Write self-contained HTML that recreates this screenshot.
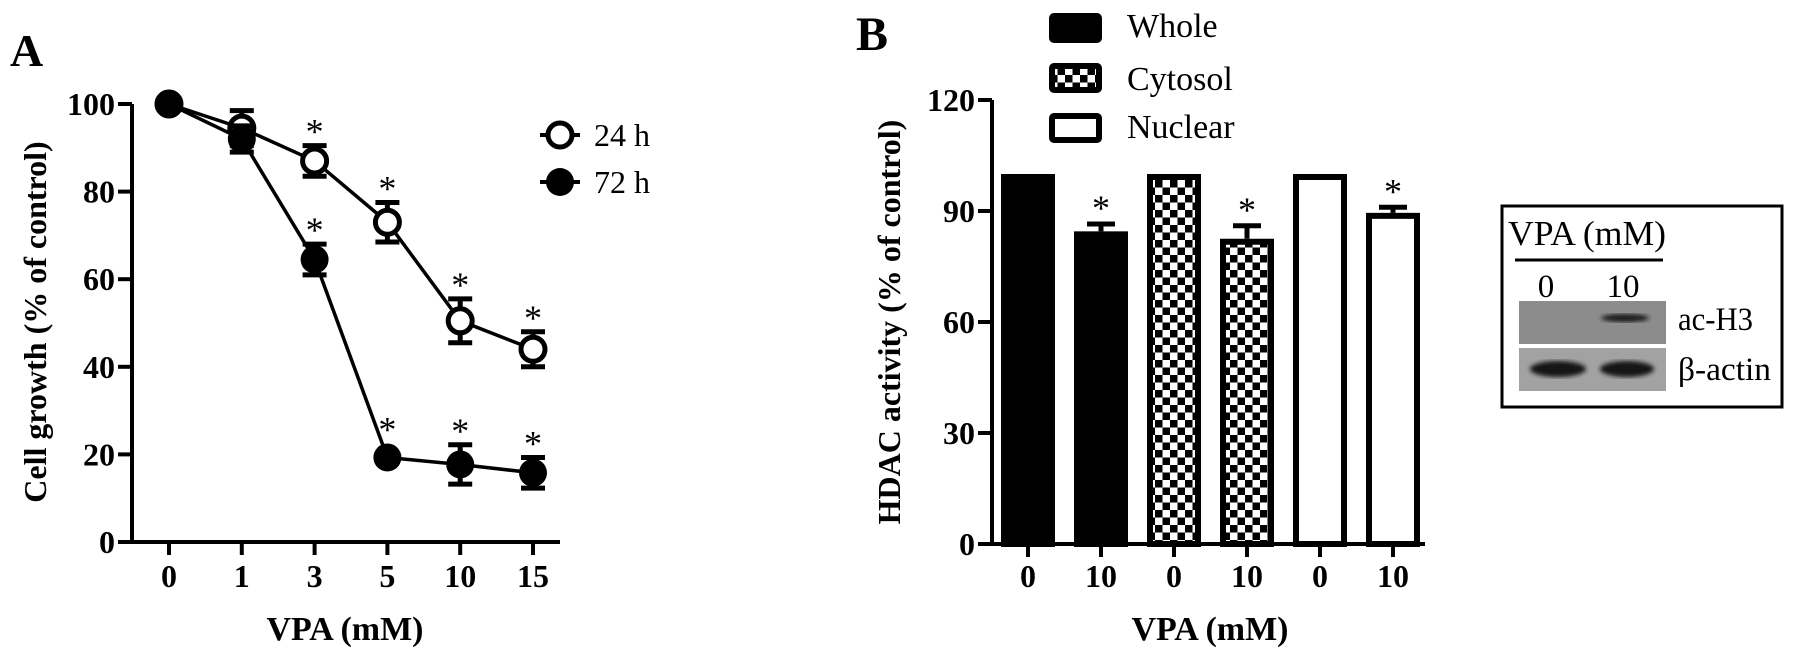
<!DOCTYPE html>
<html><head><meta charset="utf-8"><style>
html,body{margin:0;padding:0;background:#fff;}
svg{display:block;}
svg text{font-family:"Liberation Serif","Times New Roman","DejaVu Serif",serif;}
</style></head><body>
<svg id="fig" width="1795" height="658" viewBox="0 0 1795 658">
<defs>
<pattern id="chk" width="15" height="15" patternUnits="userSpaceOnUse">
<rect width="15" height="15" fill="#fff"/>
<rect width="7.5" height="7.5" fill="#000"/>
<rect x="7.5" y="7.5" width="7.5" height="7.5" fill="#000"/>
</pattern>
<filter id="blur1"><feGaussianBlur stdDeviation="2"/></filter>
</defs>
<g id="panelA"></g>
<g id="panelB"></g>
<g id="blot">
<rect x="1502" y="206" width="280" height="201" fill="#fff" stroke="#000" stroke-width="3"/>
<text x="1508" y="245" font-size="35" textLength="158" lengthAdjust="spacingAndGlyphs">VPA (mM)</text>
<line x1="1515" y1="260" x2="1663" y2="260" stroke="#000" stroke-width="3"/>
<text x="1546" y="297" font-size="33" text-anchor="middle">0</text>
<text x="1623" y="297" font-size="33" text-anchor="middle">10</text>
<rect x="1519" y="301" width="147" height="43" fill="#8c8c8c"/>
<ellipse cx="1625" cy="318" rx="24" ry="4" fill="#1a1a1a" filter="url(#blur1)"/>
<rect x="1519" y="348" width="147" height="43" fill="#a2a2a2"/>
<ellipse cx="1558" cy="369" rx="28" ry="8" fill="#151515" filter="url(#blur1)"/>
<ellipse cx="1627" cy="369" rx="27" ry="8" fill="#151515" filter="url(#blur1)"/>
<text x="1678" y="330" font-size="33" textLength="75" lengthAdjust="spacingAndGlyphs">ac-H3</text>
<text x="1678" y="380" font-size="33" textLength="93" lengthAdjust="spacingAndGlyphs">β-actin</text>
</g>
</svg>
<script>
// Panel A data
const doses = ["0","1","3","5","10","15"];
const growth24 = [100, 94.5, 87, 73, 50.5, 44];
const err24 = [1, 4, 3.5, 4.5, 5, 4];
const growth72 = [100, 92, 64.5, 19.3, 17.7, 15.8];
const err72 = [1, 3, 3.5, 1, 4.5, 3.5];
const sig24 = [false, false, true, true, true, true];
const sig72 = [false, false, true, true, true, true];
const yTicksA = [0, 20, 40, 60, 80, 100];
// Panel B data
const bLabels = ["0","10","0","10","0","10"];
const bValues = [100, 84.5, 100, 82.5, 100, 89.5];
const bErr = [0, 2, 0, 3.5, 0, 1.5];
const bFraction = ["Whole","Whole","Cytosol","Cytosol","Nuclear","Nuclear"];
const bSig = [false, true, false, true, false, true];
const yTicksB = [0, 30, 60, 90, 120];

const NS = "http://www.w3.org/2000/svg";
function mk(parent, tag, attrs, txt){
  const e = document.createElementNS(NS, tag);
  for (const k in attrs) e.setAttribute(k, attrs[k]);
  if (txt !== undefined) e.textContent = txt;
  parent.appendChild(e);
  return e;
}
// ---------- Panel A ----------
const A = document.getElementById("panelA");
const axA = 132, y0A = 542, pxA = 4.38;
const yA = v => y0A - v * pxA;
const xA = i => 169 + i * 72.8;
let e;
e = mk(A, "text", {x: 10, y: 66, "font-size": 46, "font-weight": "bold"}, "A");


e = mk(A, "line", {x1: axA, y1: y0A + 1.5, x2: axA, y2: yA(100), stroke: "#000", "stroke-width": 4});


e = mk(A, "line", {x1: axA - 14, y1: y0A, x2: 560, y2: y0A, stroke: "#000", "stroke-width": 4});


yTicksA.forEach(t => {
  e = mk(A, "line", {x1: axA - 14, y1: yA(t), x2: axA, y2: yA(t), stroke: "#000", "stroke-width": 4});
  
  
  e = mk(A, "text", {x: axA - 17, y: yA(t) + 11, "font-size": 32, "font-weight": "bold", "text-anchor": "end"}, String(t));
  
  
});
doses.forEach((d, i) => {
  e = mk(A, "line", {x1: xA(i), y1: y0A, x2: xA(i), y2: y0A + 13, stroke: "#000", "stroke-width": 4});
  
  
  e = mk(A, "text", {x: xA(i), y: 587, "font-size": 32, "font-weight": "bold", "text-anchor": "middle"}, d);
  
  
});
e = mk(A, "text", {x: 345, y: 640, "font-size": 34, "font-weight": "bold", "text-anchor": "middle"}, "VPA (mM)");


e = mk(A, "text", {x: 0, y: 0, "font-size": 32, "font-weight": "bold", "text-anchor": "middle", transform: "translate(46,322) rotate(-90)"}, "Cell growth (% of control)");



function series(vals, errs, sig, filled, name){
  const pts = vals.map((v, i) => xA(i) + "," + yA(v)).join(" ");
  e = mk(A, "polyline", {points: pts, fill: "none", stroke: "#000", "stroke-width": 3.5});
  
  
  vals.forEach((v, i) => {
    const x = xA(i), y = yA(v), t = yA(v + errs[i]), b = yA(v - errs[i]);
    if (errs[i] > 1.5) {
      e = mk(A, "path", {d: `M${x},${t}V${b}M${x-12},${t}H${x+12}M${x-12},${b}H${x+12}`, stroke: "#000", "stroke-width": 5, fill: "none"});
      
      
    }
    e = mk(A, "circle", {cx: x, cy: y, r: filled ? 14 : 12, fill: filled ? "#000" : "#fff", stroke: "#000", "stroke-width": filled ? 0 : 5});
    
    
    if (sig[i]) {
      const top = Math.min(t, y - 14);
      e = mk(A, "text", {x: x, y: top - 2, "font-size": 36, "text-anchor": "middle"}, "*");
      
      
    }
  });
}
series(growth24, err24, sig24, false, "series-24h");
series(growth72, err72, sig72, true, "series-72h");
// legend A
[["24 h", false, 135], ["72 h", true, 182]].forEach(([lab, filled, y]) => {
  e = mk(A, "line", {x1: 540, y1: y, x2: 580, y2: y, stroke: "#000", "stroke-width": 4});
  
  
  e = mk(A, "circle", {cx: 560, cy: y, r: filled ? 14 : 12, fill: filled ? "#000" : "#fff", stroke: "#000", "stroke-width": filled ? 0 : 5});
  
  
  e = mk(A, "text", {x: 594, y: y + 11, "font-size": 32}, lab);
  
  
});

// ---------- Panel B ----------
const B = document.getElementById("panelB");
const axB = 992, y0B = 544, pxB = 3.7;
const yB = v => y0B - v * pxB;
const xB = i => 1028 + i * 73;
const bw = 54;
e = mk(B, "text", {x: 856, y: 50, "font-size": 48, "font-weight": "bold"}, "B");


bValues.forEach((v, i) => {
  const x = xB(i) - bw / 2, f = bFraction[i];
  const fill = f === "Whole" ? "#000" : f === "Cytosol" ? "url(#chk)" : "#fff";
  e = mk(B, "rect", {x: x + 3, y: yB(v) + 3, width: bw - 6, height: v * pxB - 3, fill: fill, stroke: "#000", "stroke-width": 6});
  
  
  const top = yB(v + bErr[i]);
  if (bErr[i] > 0) {
    e = mk(B, "path", {d: `M${xB(i)},${yB(v)}V${top}M${xB(i)-14},${top}H${xB(i)+14}`, stroke: "#000", "stroke-width": 5, fill: "none"});
    
    
  }
  if (bSig[i]) {
    e = mk(B, "text", {x: xB(i), y: top - 4, "font-size": 36, "text-anchor": "middle"}, "*");
    
    
  }
  e = mk(B, "line", {x1: xB(i), y1: y0B, x2: xB(i), y2: y0B + 13, stroke: "#000", "stroke-width": 4});
  
  
  e = mk(B, "text", {x: xB(i), y: 587, "font-size": 32, "font-weight": "bold", "text-anchor": "middle"}, bLabels[i]);
  
  
});
e = mk(B, "line", {x1: axB, y1: y0B + 1.5, x2: axB, y2: yB(120), stroke: "#000", "stroke-width": 4});


e = mk(B, "line", {x1: axB - 14, y1: y0B, x2: 1425, y2: y0B, stroke: "#000", "stroke-width": 4});


yTicksB.forEach(t => {
  e = mk(B, "line", {x1: axB - 14, y1: yB(t), x2: axB, y2: yB(t), stroke: "#000", "stroke-width": 4});
  
  
  e = mk(B, "text", {x: axB - 17, y: yB(t) + 11, "font-size": 32, "font-weight": "bold", "text-anchor": "end"}, String(t));
  
  
});
e = mk(B, "text", {x: 1210, y: 640, "font-size": 34, "font-weight": "bold", "text-anchor": "middle"}, "VPA (mM)");


e = mk(B, "text", {x: 0, y: 0, "font-size": 32, "font-weight": "bold", "text-anchor": "middle", transform: "translate(900,322) rotate(-90)"}, "HDAC activity (% of control)");


[["Whole", "#000", 13, 37], ["Cytosol", "url(#chk)", 63, 90], ["Nuclear", "#fff", 113, 138]].forEach(([lab, fill, y, base]) => {
  e = mk(B, "rect", {x: 1052, y: y + 3, width: 47, height: 24, fill: fill, stroke: "#000", "stroke-width": 6, rx: 2});
  
  
  e = mk(B, "text", {x: 1127, y: base, "font-size": 34}, lab);
  
  
});
</script>
</body></html>
